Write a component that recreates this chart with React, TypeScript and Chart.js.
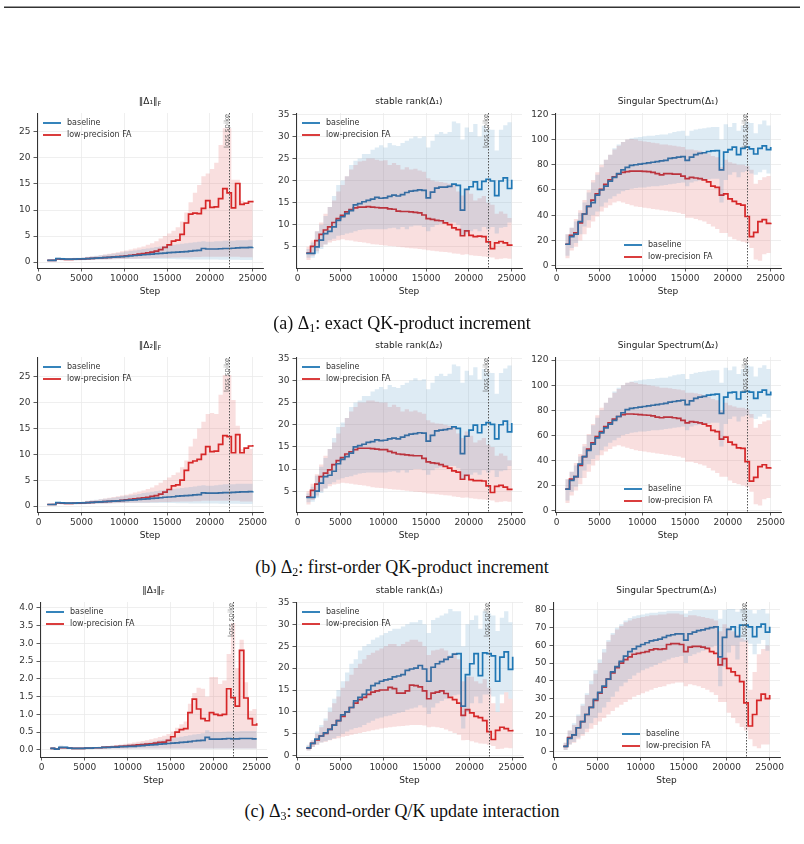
import React, { useEffect, useRef } from 'react';
import { Chart, registerables } from 'chart.js';

Chart.register(...registerables);
Chart.defaults.font.family = '"DejaVu Sans", sans-serif';

// ---------------- DATA ----------------
const STEPS = [
  1000, 1500, 2000, 2500, 3000, 3500, 4000, 4500, 5000, 5500,
  6000, 6500, 7000, 7500, 8000, 8500, 9000, 9500, 10000, 10500,
  11000, 11500, 12000, 12500, 13000, 13500, 14000, 14500, 15000, 15500,
  16000, 16500, 17000, 17500, 18000, 18500, 19000, 19500, 20000, 20500,
  21000, 21500, 22000, 22500, 23000, 23500, 24000, 24500, 25000,
];
const SPIKE_STEP = 22200;
const X_TICKS = [0, 5000, 10000, 15000, 20000, 25000];
const NORM_TICKS = [0, 5, 10, 15, 20, 25];
const RANK_TICKS = [5, 10, 15, 20, 25, 30, 35];
const SPEC_TICKS = [0, 20, 40, 60, 80, 100, 120];
const NORM3_TICKS = [0, 0.5, 1.0, 1.5, 2.0, 2.5, 3.0, 3.5, 4.0];
const RANK3_TICKS = [0, 5, 10, 15, 20, 25, 30, 35];
const SPEC3_TICKS = [0, 10, 20, 30, 40, 50, 60, 70, 80];
const SERIES_LABELS = ['baseline', 'low-precision FA'];

// ---- (a) Delta_1 ----
const N1_BASE = [
  0.3, 0.3, 0.65, 0.6, 0.55, 0.55, 0.55, 0.6, 0.6, 0.65,
  0.7, 0.75, 0.8, 0.85, 0.9, 0.95, 1.0, 1.05, 1.1, 1.2,
  1.25, 1.3, 1.4, 1.45, 1.5, 1.6, 1.65, 1.7, 1.8, 1.85,
  1.9, 1.95, 2.0, 2.1, 2.2, 2.25, 2.6, 2.5, 2.5, 2.5,
  2.55, 2.6, 2.6, 2.65, 2.7, 2.75, 2.75, 2.8, 2.85];
const N1_LP = [
  0.3, 0.3, 0.6, 0.55, 0.5, 0.5, 0.55, 0.55, 0.6, 0.65,
  0.7, 0.75, 0.8, 0.85, 0.9, 1.0, 1.05, 1.1, 1.2, 1.3,
  1.4, 1.5, 1.6, 1.75, 1.9, 2.1, 2.4, 2.8, 3.3, 4.0,
  4.2, 5.3, 7.5, 9.2, 9.4, 9.3, 10.3, 11.8, 10.5, 10.6,
  12.2, 14.1, 13.3, 10.4, 15.1, 11.1, 11.3, 11.6, 11.8];
const N1_BASE_HI = [
  0.4, 0.5, 0.8, 0.8, 0.7, 0.7, 0.8, 0.8, 0.9, 1.0,
  1.1, 1.2, 1.3, 1.4, 1.5, 1.6, 1.75, 1.85, 2.0, 2.1,
  2.2, 2.35, 2.5, 2.6, 2.75, 2.9, 3.0, 3.1, 3.2, 3.3,
  3.4, 3.5, 3.6, 3.7, 3.8, 3.9, 4.0, 3.9, 3.9, 4.0,
  4.0, 4.1, 4.1, 4.1, 4.2, 4.2, 4.2, 4.3, 4.3];
const N1_BASE_LO = [
  0.2, 0.2, 0.4, 0.35, 0.3, 0.3, 0.3, 0.35, 0.35, 0.4,
  0.4, 0.45, 0.45, 0.5, 0.5, 0.55, 0.55, 0.6, 0.6, 0.6,
  0.6, 0.6, 0.6, 0.6, 0.6, 0.6, 0.6, 0.6, 0.6, 0.6,
  0.55, 0.55, 0.55, 0.5, 0.5, 0.5, 0.5, 0.5, 0.5, 0.5,
  0.45, 0.45, 0.45, 0.45, 0.45, 0.4, 0.4, 0.4, 0.4];
const N1_LP_HI = [
  0.4, 0.5, 0.8, 0.7, 0.65, 0.65, 0.7, 0.75, 0.85, 0.95,
  1.05, 1.15, 1.3, 1.45, 1.6, 1.75, 1.9, 2.05, 2.2, 2.4,
  2.6, 2.8, 3.0, 3.3, 3.6, 4.0, 4.5, 5.0, 5.5, 6.0,
  6.7, 7.8, 9.5, 11.5, 13.3, 14.8, 16.5, 17.0, 17.9, 19.1,
  22.5, 25.7, 25.7, 15.8, 15.8, 11.8, 11.5, 11.3, 11.3];
const N1_LP_LO = [
  0.2, 0.2, 0.4, 0.35, 0.3, 0.3, 0.35, 0.35, 0.4, 0.4,
  0.45, 0.45, 0.5, 0.5, 0.55, 0.55, 0.6, 0.6, 0.6, 0.65,
  0.65, 0.7, 0.7, 0.7, 0.75, 0.75, 0.8, 0.8, 0.8, 0.85,
  0.85, 0.9, 0.9, 0.9, 0.95, 0.95, 1.0, 1.0, 1.0, 1.0,
  1.0, 1.0, 1.0, 1.0, 1.0, 0.9, 0.9, 0.9, 0.9];

const R1_BASE = [
  3.5, 3.5, 5.0, 6.5, 8.0, 8.5, 9.5, 11.0, 11.8, 12.5,
  13.2, 14.5, 14.8, 15.2, 15.5, 15.8, 16.2, 16.0, 16.1, 16.4,
  16.7, 16.5, 16.8, 17.3, 17.6, 17.7, 17.9, 17.8, 16.1, 17.4,
  18.3, 18.5, 18.5, 18.7, 19.2, 18.9, 13.3, 18.0, 18.6, 19.7,
  18.0, 19.8, 20.3, 19.9, 16.6, 19.9, 20.6, 18.2, 20.2];
const R1_LP = [
  3.6, 5.1, 6.4, 7.8, 8.8, 9.5, 10.5, 11.4, 12.1, 12.9,
  13.4, 13.8, 14.0, 14.0, 14.1, 14.0, 13.9, 13.8, 13.8, 13.6,
  13.5, 13.1, 13.0, 13.0, 12.9, 12.8, 12.7, 12.2, 11.4, 11.2,
  11.0, 10.9, 10.4, 10.0, 9.3, 8.9, 7.5, 8.6, 7.6, 7.3,
  7.4, 7.3, 6.1, 4.6, 5.9, 6.2, 5.9, 5.4, 5.2];
const R1_BASE_HI = [
  4.5, 6, 8.5, 10, 12, 14, 16.5, 19, 20, 21,
  23.5, 24.5, 25, 26, 26, 27, 27.5, 28, 27.5, 28.5,
  28, 27.8, 28.5, 29, 29.5, 30, 29.6, 30, 27.5, 29,
  30.5, 31, 30.6, 31, 33.4, 33, 29.3, 32, 31, 32.8,
  30, 32.4, 31.6, 31.5, 26.8, 31.5, 32.5, 33.2, 29];
const R1_BASE_LO = [
  2.5, 2.5, 3.5, 4.5, 5.5, 6.5, 6.8, 7.5, 7.7, 8,
  8.2, 8.5, 8.8, 8.9, 9.0, 9.0, 9.0, 9.0, 9.0, 9.2,
  9.3, 9.0, 9.5, 9.0, 9.6, 9.8, 9.8, 9.5, 8.5, 9.5,
  10, 10.2, 10.5, 10.5, 10.5, 10, 7.5, 8, 8.5, 9,
  8.5, 9.5, 9, 9.5, 8, 9.3, 9.5, 10.5, 10.7];
const R1_LP_HI = [
  5, 6.5, 8.5, 10.5, 12.5, 14, 15.5, 17.5, 19, 21,
  22.5, 23.5, 24.3, 24.5, 25, 25, 24.7, 24.5, 24.6, 23.5,
  24, 23.5, 22.5, 23, 22.5, 22.7, 22.3, 22, 20.5, 20,
  19.8, 19.7, 19.5, 19.3, 19, 17.5, 16.6, 18, 17, 15.5,
  16, 16.5, 15, 14.5, 12.5, 13, 12.5, 11.5, 10];
const R1_LP_LO = [
  2, 3, 4, 5, 5.5, 6, 6.3, 6.5, 6.7, 6.5,
  6.4, 6.2, 6.1, 6.0, 5.8, 5.6, 5.5, 5.4, 5.3, 5.2,
  5.1, 5.0, 4.9, 4.8, 4.7, 4.6, 4.5, 4.4, 4.2, 4.1,
  4.0, 3.9, 3.8, 3.7, 3.5, 3.4, 3.2, 3.3, 3.1, 3.0,
  2.9, 2.8, 2.7, 2.6, 2.2, 2.3, 2.4, 2.3, 2.1];

const S1_BASE = [
  17, 23, 25, 35, 41, 47, 50, 56, 60, 63,
  67, 70, 73, 76, 78, 79.5, 80, 80.5, 81, 81.5,
  82, 82.5, 83, 83.5, 85, 85.5, 86, 86.5, 83.5, 86,
  88, 89, 89.5, 90.5, 91, 91.2, 76, 90, 92, 94,
  88, 93, 94, 92.5, 88.5, 93, 95, 92, 94];
const S1_LP = [
  17, 24, 26, 34, 41, 47, 52, 57, 60.5, 64.5,
  68, 70.5, 72.5, 74, 74.5, 75, 75, 75, 74.8, 74.5,
  74, 73, 72, 73, 73, 72.5, 72.5, 71, 69, 70,
  69.5, 69, 68, 66.5, 63, 62, 56, 57, 53, 51,
  49, 48, 39, 23, 26.5, 35, 36.5, 33.5, 34];
const S1_BASE_HI = [
  25, 30, 35, 42, 50, 58, 66, 72, 78, 84,
  88, 93, 96, 98, 100, 101, 101.5, 102, 102.5, 103,
  103, 103.5, 104, 104, 105, 106, 106.5, 107, 103, 107,
  108, 108.5, 109, 109.5, 110, 110, 100, 112, 110, 113,
  107, 111, 114, 113, 105, 112, 115, 111, 113];
const S1_BASE_LO = [
  8, 14, 18, 25, 31, 36, 40, 43, 47, 50,
  53, 55, 57, 59, 60, 61, 61.5, 62, 62, 62.5,
  63, 63, 63.5, 64, 64.5, 65, 65.5, 66, 63, 66,
  67, 67.5, 68, 68.5, 69, 69, 50, 68, 72, 74,
  70, 74, 75, 73, 72, 74, 76, 73, 74];
const S1_LP_HI = [
  25, 30, 37, 44, 52, 60, 68, 74, 80, 84,
  88, 92, 95, 98, 100, 100.5, 100, 99, 98.5, 98,
  97.5, 97, 96, 96, 95.5, 95, 94.5, 94, 92, 92,
  91.5, 91, 90, 89, 87, 86, 78, 84, 82, 81,
  80, 80, 79, 76, 65, 68, 70, 71, 71];
const S1_LP_LO = [
  6, 12, 15, 20, 25, 30, 35, 39, 43, 46,
  48, 50, 51, 50, 49, 48, 47, 46.5, 46, 45.5,
  45, 44.5, 44, 43.5, 43, 42.5, 42, 41, 38, 38,
  37, 36, 35, 33, 31, 29, 26, 26, 23, 21,
  20, 19, 18, 14, 5, 4, 9, 10, 8];

// ---- (b) Delta_2 ----
const N2_BASE = [
  0.3, 0.3, 0.65, 0.6, 0.55, 0.55, 0.55, 0.6, 0.6, 0.65,
  0.7, 0.75, 0.8, 0.85, 0.9, 0.95, 1.0, 1.05, 1.1, 1.15,
  1.2, 1.3, 1.35, 1.4, 1.5, 1.55, 1.6, 1.7, 1.75, 1.8,
  1.9, 1.95, 2.0, 2.05, 2.15, 2.2, 2.55, 2.5, 2.5, 2.5,
  2.55, 2.6, 2.6, 2.65, 2.7, 2.75, 2.75, 2.8, 2.85];
const N2_LP = [
  0.3, 0.3, 0.6, 0.55, 0.5, 0.5, 0.55, 0.55, 0.6, 0.65,
  0.7, 0.75, 0.8, 0.85, 0.9, 0.95, 1.0, 1.1, 1.2, 1.3,
  1.4, 1.5, 1.6, 1.7, 1.85, 2.0, 2.3, 2.7, 3.2, 3.9,
  4.1, 5.0, 6.9, 8.4, 8.7, 9.0, 10.0, 11.5, 10.5, 10.6,
  11.9, 13.6, 13.4, 10.3, 13.8, 10.3, 11.2, 11.6, 11.8];
const N2_BASE_HI = [
  0.4, 0.5, 0.8, 0.8, 0.7, 0.7, 0.8, 0.8, 0.9, 1.0,
  1.1, 1.2, 1.3, 1.4, 1.5, 1.6, 1.75, 1.85, 2.0, 2.1,
  2.2, 2.35, 2.5, 2.6, 2.75, 2.9, 3.0, 3.1, 3.2, 3.3,
  3.4, 3.5, 3.6, 3.7, 3.8, 3.9, 4.0, 3.9, 3.9, 4.0,
  4.1, 4.2, 4.2, 4.2, 4.3, 4.3, 4.3, 4.3, 4.3];
const N2_BASE_LO = [
  0.2, 0.2, 0.4, 0.35, 0.3, 0.3, 0.3, 0.35, 0.35, 0.4,
  0.4, 0.45, 0.45, 0.5, 0.5, 0.55, 0.55, 0.6, 0.6, 0.6,
  0.6, 0.6, 0.6, 0.6, 0.6, 0.6, 0.6, 0.6, 0.6, 0.6,
  0.55, 0.55, 0.55, 0.5, 0.5, 0.5, 0.5, 0.5, 0.5, 0.5,
  0.45, 0.45, 0.45, 0.45, 0.45, 0.4, 0.4, 0.4, 0.4];
const N2_LP_HI = [
  0.4, 0.5, 0.8, 0.7, 0.65, 0.65, 0.7, 0.75, 0.85, 0.95,
  1.05, 1.15, 1.3, 1.45, 1.6, 1.75, 1.9, 2.05, 2.2, 2.4,
  2.6, 2.8, 3.0, 3.3, 3.6, 4.0, 4.5, 5.0, 5.5, 6.0,
  6.5, 7.5, 8.8, 11.5, 13.0, 15.0, 16.3, 17.8, 18.0, 17.8,
  21.5, 25.3, 25.3, 20.5, 15.5, 11.0, 11.0, 11.0, 11.0];
const N2_LP_LO = [
  0.2, 0.2, 0.4, 0.35, 0.3, 0.3, 0.35, 0.35, 0.4, 0.4,
  0.45, 0.45, 0.5, 0.5, 0.55, 0.55, 0.6, 0.6, 0.6, 0.65,
  0.65, 0.7, 0.7, 0.7, 0.75, 0.75, 0.8, 0.8, 0.8, 0.85,
  0.85, 0.9, 0.9, 0.9, 0.95, 0.95, 1.0, 1.0, 1.0, 1.0,
  1.0, 1.0, 1.0, 1.0, 1.0, 0.9, 0.9, 0.9, 0.9];

const R2_BASE = [
  3.6, 3.6, 5.0, 6.8, 8.3, 8.6, 9.5, 11.2, 12.2, 12.8,
  13.6, 15.0, 15.3, 15.6, 16.0, 16.2, 16.6, 16.4, 16.5, 16.8,
  17.0, 16.8, 17.2, 17.6, 17.9, 18.0, 18.2, 18.1, 16.3, 17.6,
  18.6, 18.8, 18.9, 19.1, 19.5, 19.2, 13.5, 17.4, 18.8, 19.9,
  18.2, 20.0, 20.5, 20.1, 16.8, 20.0, 20.8, 18.4, 20.4];
const R2_LP = [
  3.7, 5.2, 6.6, 8.3, 9.1, 9.8, 11.0, 11.9, 12.6, 13.4,
  13.9, 14.4, 14.7, 14.7, 14.7, 14.6, 14.5, 14.4, 14.4, 14.0,
  13.7, 13.4, 13.3, 13.2, 13.1, 13.0, 13.0, 12.4, 11.6, 11.4,
  11.3, 11.0, 10.6, 10.2, 9.6, 9.3, 7.7, 8.6, 7.6, 7.4,
  7.4, 7.3, 6.2, 4.7, 6.1, 6.3, 5.9, 5.4, 5.2];
const R2_BASE_HI = [
  4.5, 6, 8.5, 10.5, 12.5, 14.5, 17, 19.5, 20.5, 21.5,
  24, 25, 25.5, 26.5, 26.5, 27.5, 28, 28.5, 28, 29,
  28.5, 28.3, 29, 29.5, 30, 30.5, 30, 30.3, 28, 29.5,
  31, 31.5, 31, 31.5, 33.6, 33.2, 29.5, 32.2, 31.2, 33,
  30.2, 32.6, 31.8, 31.7, 27, 31.7, 32.7, 33.4, 29.2];
const R2_BASE_LO = [
  2.5, 2.6, 3.6, 4.6, 5.6, 6.6, 7, 7.6, 7.9, 8.2,
  8.4, 8.7, 9, 9.1, 9.2, 9.2, 9.2, 9.2, 9.2, 9.4,
  9.5, 9.2, 9.7, 9.2, 9.8, 10, 10, 9.7, 8.7, 9.7,
  10.2, 10.4, 10.7, 10.7, 10.7, 10.2, 7.7, 8.2, 8.7, 9.2,
  8.7, 9.7, 9.2, 9.7, 8.2, 9.5, 9.7, 10.7, 10.9];
const R2_LP_HI = [
  5, 6.7, 8.8, 11, 13, 14.5, 16, 18, 19.5, 21.5,
  23, 24, 25, 25, 25.5, 25.5, 25.2, 25, 25, 24,
  24.5, 24, 23, 23.5, 23, 23.2, 22.8, 22.5, 21, 20.5,
  20.3, 20.2, 20, 19.8, 19.5, 18, 17, 18.5, 17.5, 16,
  16.5, 17, 15.5, 15, 13, 13.5, 13, 12, 10.5];
const R2_LP_LO = [
  2, 3, 4, 5, 5.6, 6.1, 6.5, 6.7, 6.9, 6.8,
  6.7, 6.5, 6.4, 6.3, 6.1, 5.9, 5.8, 5.7, 5.6, 5.5,
  5.4, 5.3, 5.2, 5.1, 5.0, 4.9, 4.8, 4.7, 4.5, 4.4,
  4.3, 4.2, 4.1, 4.0, 3.8, 3.7, 3.5, 3.6, 3.4, 3.3,
  3.2, 3.1, 3.0, 2.9, 2.5, 2.6, 2.7, 2.6, 2.4];

const S2_BASE = [
  17, 24, 27, 37, 43, 48, 53, 58, 62, 66,
  69, 72, 75, 78, 80.5, 81.5, 82, 82.5, 83, 83.5,
  84, 84.5, 85, 85.5, 86.5, 87, 87.5, 88, 84.5, 87.5,
  89.5, 90.5, 91, 92, 92.5, 92.8, 77.5, 90.5, 94, 94.5,
  89, 94.5, 95, 94.5, 89.5, 94.5, 96, 92.5, 95];
const S2_LP = [
  17, 25, 27, 36, 43, 49, 54, 59, 63, 67,
  70, 73, 75, 76.5, 77, 77, 76.8, 76.5, 76.2, 76,
  75.5, 74.5, 74, 74.5, 74.5, 74, 73.5, 72, 70, 71,
  70.5, 70, 69, 67.5, 64, 63, 57, 58.5, 54.5, 52.5,
  50, 49.5, 39, 23.5, 26.5, 35, 36.5, 34, 34.5];
const S2_BASE_HI = [
  25, 31, 36, 43, 51, 60, 68, 74, 80, 86,
  90, 95, 98, 100, 102, 103, 103.5, 104, 104.5, 105,
  105, 105.5, 106, 106, 107, 108, 108.5, 109, 105, 109,
  110, 110.5, 111, 111.5, 112, 112, 102, 114, 112, 115,
  109, 113, 116, 115, 107, 114, 116, 113, 112];
const S2_BASE_LO = [
  8, 15, 19, 26, 32, 37, 41, 44, 48, 51,
  54, 56, 58, 60, 61, 62, 62.5, 63, 63, 63.5,
  64, 64, 64.5, 65, 65.5, 66, 66.5, 67, 64, 67,
  68, 68.5, 69, 69.5, 70, 70, 51, 69, 73, 75,
  71, 75, 76, 74, 73, 75, 77, 74, 75];
const S2_LP_HI = [
  25, 31, 38, 45, 53, 61, 69, 76, 82, 86,
  90, 94, 97, 100, 102, 102.5, 102, 101, 100.5, 100,
  99.5, 99, 98, 98, 97.5, 97, 96.5, 96, 94, 94,
  93.5, 93, 92, 91, 89, 88, 80, 86, 84, 83,
  82, 82, 81, 77, 66, 69, 71, 72, 72];
const S2_LP_LO = [
  6, 12, 16, 21, 26, 31, 36, 40, 44, 47,
  49, 51, 52, 51, 50, 49, 48, 47.5, 47, 46.5,
  46, 45.5, 45, 44.5, 44, 43.5, 43, 42, 39, 39,
  38, 37, 36, 34, 32, 30, 27, 27, 24, 22,
  21, 20, 19, 15, 5, 4, 9, 10, 8];

// ---- (c) Delta_3 ----
const N3_BASE = [
  0.04, 0.02, 0.07, 0.07, 0.05, 0.04, 0.04, 0.04, 0.05, 0.05,
  0.06, 0.06, 0.07, 0.07, 0.08, 0.08, 0.09, 0.09, 0.1, 0.1,
  0.11, 0.12, 0.13, 0.14, 0.15, 0.16, 0.17, 0.18, 0.19, 0.2,
  0.21, 0.22, 0.23, 0.25, 0.26, 0.27, 0.35, 0.3, 0.3, 0.3,
  0.31, 0.32, 0.31, 0.31, 0.32, 0.32, 0.32, 0.31, 0.31];
const N3_LP = [
  0.04, 0.02, 0.06, 0.06, 0.05, 0.04, 0.04, 0.04, 0.05, 0.05,
  0.06, 0.06, 0.07, 0.08, 0.08, 0.09, 0.1, 0.11, 0.12, 0.13,
  0.14, 0.15, 0.16, 0.17, 0.19, 0.21, 0.22, 0.27, 0.37, 0.5,
  0.57, 0.6, 1.05, 1.43, 1.15, 0.88, 0.82, 1.05, 1.0, 0.97,
  1.0, 1.72, 1.47, 1.23, 2.8, 1.46, 0.88, 0.7, 0.75];
const N3_BASE_HI = [
  0.06, 0.04, 0.12, 0.1, 0.07, 0.06, 0.06, 0.06, 0.07, 0.07,
  0.08, 0.09, 0.1, 0.11, 0.12, 0.13, 0.14, 0.15, 0.16, 0.17,
  0.18, 0.2, 0.21, 0.23, 0.25, 0.27, 0.29, 0.31, 0.33, 0.35,
  0.37, 0.39, 0.41, 0.43, 0.45, 0.47, 0.55, 0.5, 0.5, 0.5,
  0.51, 0.52, 0.52, 0.52, 0.53, 0.53, 0.53, 0.53, 0.53];
const N3_BASE_LO = [
  0.02, 0.0, 0.03, 0.04, 0.03, 0.02, 0.02, 0.02, 0.02, 0.02,
  0.03, 0.03, 0.03, 0.03, 0.03, 0.03, 0.03, 0.03, 0.03, 0.03,
  0.03, 0.03, 0.03, 0.03, 0.03, 0.03, 0.03, 0.03, 0.03, 0.03,
  0.03, 0.03, 0.03, 0.03, 0.03, 0.03, 0.03, 0.03, 0.03, 0.03,
  0.03, 0.03, 0.03, 0.03, 0.03, 0.03, 0.03, 0.03, 0.03];
const N3_LP_HI = [
  0.06, 0.04, 0.1, 0.09, 0.07, 0.06, 0.06, 0.06, 0.07, 0.07,
  0.08, 0.09, 0.1, 0.11, 0.12, 0.14, 0.15, 0.17, 0.19, 0.21,
  0.23, 0.25, 0.27, 0.3, 0.33, 0.36, 0.4, 0.45, 0.52, 0.62,
  0.72, 0.8, 1.3, 1.6, 1.75, 1.72, 1.5, 2.05, 2.05, 1.85,
  1.95, 2.7, 3.57, 2.3, 3.1, 1.9, 1.1, 1.15, 1.15];
const N3_LP_LO = [
  0.02, 0.0, 0.03, 0.03, 0.03, 0.02, 0.02, 0.02, 0.02, 0.02,
  0.03, 0.03, 0.03, 0.03, 0.03, 0.03, 0.03, 0.03, 0.03, 0.04,
  0.04, 0.04, 0.04, 0.04, 0.04, 0.04, 0.04, 0.04, 0.04, 0.04,
  0.04, 0.04, 0.04, 0.04, 0.04, 0.04, 0.04, 0.04, 0.04, 0.04,
  0.04, 0.04, 0.04, 0.04, 0.04, 0.04, 0.04, 0.04, 0.04];

const R3_BASE = [
  1.8, 2.8, 3.8, 4.5, 5.2, 6.0, 7.0, 8.0, 9.3, 10.0,
  11.0, 12.5, 13.3, 14.0, 15.0, 16.0, 16.5, 17.0, 17.3, 17.5,
  18.0, 18.2, 18.5, 19.5, 19.8, 20.0, 20.6, 19.8, 17.0, 20.2,
  21.0, 21.5, 22.0, 22.5, 23.2, 23.3, 11.3, 18.5, 21.0, 23.3,
  18.3, 23.5, 23.3, 22.8, 17.0, 22.5, 23.7, 19.7, 22.6];
const R3_LP = [
  1.7, 2.8, 3.6, 4.5, 5.1, 6.0, 7.0, 8.0, 9.0, 10.0,
  11.0, 12.0, 12.8, 13.3, 14.0, 14.5, 14.8, 15.0, 15.0, 15.6,
  15.3, 14.3, 14.3, 14.8, 16.1, 16.0, 15.7, 14.8, 13.0, 14.3,
  14.5, 14.8, 14.2, 13.3, 12.8, 12.0, 9.2, 10.5, 9.8, 9.0,
  8.7, 8.0, 5.5, 3.7, 5.8, 6.5, 6.2, 5.7, 5.9];
const R3_BASE_HI = [
  2.5, 3.5, 5.5, 7, 8.5, 11, 13, 15, 17, 19,
  21, 22, 24, 25, 25.5, 26.5, 27, 27.5, 28, 28.5,
  29, 29, 29.5, 30, 30.5, 30.5, 31, 30, 28, 31,
  31.5, 32, 32.5, 33.5, 33, 33, 25, 30, 31, 32,
  29, 33, 32.5, 32, 28.5, 31.5, 33, 30.5, 28];
const R3_BASE_LO = [
  1.2, 2, 2.5, 3, 3.3, 3.6, 4, 4.5, 5, 5.5,
  6, 6.3, 6.5, 7, 7.5, 8, 8.5, 8.7, 9, 9.2,
  9.5, 9.8, 10, 10.5, 10.8, 11, 11.5, 11, 9.5, 11,
  12, 12.5, 13, 13.5, 13.8, 14, 6.2, 10, 12, 13.5,
  12, 14, 14, 13.5, 10, 14, 14.5, 13, 13.5];
const R3_LP_HI = [
  2.2, 3.5, 5, 6.5, 8, 10, 12, 13.5, 15.5, 17,
  18.5, 20, 21, 22, 23, 23.5, 24, 24.5, 25, 25.5,
  25.5, 25, 25.5, 26, 26.5, 26.5, 26, 25, 23, 24,
  24.2, 24.5, 24, 23, 23.5, 22, 17, 18, 18, 17,
  16.5, 17.5, 15.5, 12, 10, 12, 14.5, 13, 12];
const R3_LP_LO = [
  1.2, 2, 2.5, 3, 3.2, 3.5, 3.8, 4, 4.3, 4.5,
  4.8, 5, 5.2, 5.4, 5.6, 5.8, 6, 6.2, 6.4, 6.5,
  6.6, 6.7, 6.8, 6.9, 7, 7, 7, 6.9, 6.5, 6.6,
  6.5, 6.3, 6, 5.6, 5.2, 4.8, 3.5, 3.6, 3.3, 3.0,
  2.8, 2.7, 2.5, 2.2, 1.5, 1.6, 1.8, 1.7, 1.6];

const S3_BASE = [
  3, 7.5, 9.5, 13.5, 17, 21, 25, 29.5, 33.5, 37,
  41, 45, 48, 51, 54, 56.5, 58, 59.5, 60.5, 61.5,
  62.5, 63, 63.5, 64.5, 65.5, 66, 66.5, 66.5, 63, 66.5,
  67.5, 68.3, 68.8, 69.5, 70, 70.5, 53.5, 64.5, 69, 70.5,
  65, 71.5, 71.5, 70.5, 65, 70.5, 72, 67.5, 70.5];
const S3_LP = [
  3, 8, 9.5, 13.5, 17, 21, 25, 29, 33, 36.5,
  41, 44.5, 47.5, 50, 52, 53.5, 55, 55.5, 56, 56.5,
  57.5, 58, 57.8, 58, 60.5, 61, 61, 60.5, 56.5, 59,
  59.5, 59.5, 59, 58.3, 56.5, 55.5, 49, 52.5, 47, 45,
  43, 39.5, 27.5, 14.5, 21, 29, 32.5, 30, 32];
const S3_BASE_HI = [
  5, 12, 16, 21, 27, 33, 40, 46, 52, 58,
  63, 67, 70, 72, 74, 75.5, 76.5, 77, 77.5, 78,
  78.5, 78.5, 79, 79, 79.5, 79.5, 79.5, 79.5, 78, 79.5,
  80, 80, 80, 80, 80, 80, 75, 80, 80.5, 80.5,
  79, 80.5, 80.5, 80, 78, 80, 80.5, 78, 80];
const S3_BASE_LO = [
  1, 4, 5.5, 8, 10, 13, 16, 19, 22, 25,
  28, 31, 34, 37, 39, 41, 43, 44.5, 46, 47,
  48, 49, 50, 51, 52, 53, 53.5, 54, 50, 54,
  55, 56, 57, 58, 59, 60, 37, 48, 56, 60,
  52, 62, 62, 61, 55, 61, 63, 57, 60];
const S3_LP_HI = [
  5, 12, 15, 20, 26, 32, 38, 44, 50, 56,
  62, 66, 69, 71, 73, 74, 75, 75.5, 76, 76.5,
  77, 77, 77.5, 77.5, 78, 78, 78, 77.5, 76, 77,
  77, 76.5, 76, 75.5, 75, 74, 68, 72, 70, 68,
  66, 64, 63, 35, 45, 55, 58, 60, 59];
const S3_LP_LO = [
  1, 4, 5, 7, 9, 11, 13, 15, 17, 19,
  21, 23, 25, 26.5, 28, 29.5, 31, 32, 33, 34,
  35, 36, 36.5, 37, 38, 38.5, 39, 39, 37, 38,
  37.5, 37, 36, 35, 33.5, 32, 28, 28, 22, 19,
  16, 14, 12, 7, 3, 2, 4, 4, 3];

// ---------------- STYLE / LAYOUT ----------------
const BLUE = '#1f77b4';
const RED = '#d62728';
const BLUE_FILL = 'rgba(31,119,180,0.15)';
const RED_FILL = 'rgba(214,39,40,0.15)';
const PAD_L = 40;
const PAD_T = 22;
const PAD_R = 12;
const PAD_B = 36;
const PLOT_H = 155;

type PanelDef = {
  title: string; sub?: string;
  base: number[]; lp: number[]; baseHi: number[]; baseLo: number[]; lpHi: number[]; lpLo: number[];
  yMin: number; yMax: number; yTicks: number[]; dec: number; legend: 'tl' | 'bc';
  L: number; T: number; W: number;
};

const PANELS: PanelDef[] = [
  { title: '‖Δ₁‖', sub: 'F', base: N1_BASE, lp: N1_LP, baseHi: N1_BASE_HI, baseLo: N1_BASE_LO, lpHi: N1_LP_HI, lpLo: N1_LP_LO,
    yMin: -1.15, yMax: 28.65, yTicks: NORM_TICKS, dec: 0, legend: 'tl', L: 37, T: 113, W: 226 },
  { title: 'stable rank(Δ₁)', base: R1_BASE, lp: R1_LP, baseHi: R1_BASE_HI, baseLo: R1_BASE_LO, lpHi: R1_LP_HI, lpLo: R1_LP_LO,
    yMin: 0.2, yMax: 35.3, yTicks: RANK_TICKS, dec: 0, legend: 'tl', L: 296, T: 113, W: 226 },
  { title: 'Singular Spectrum(Δ₁)', base: S1_BASE, lp: S1_LP, baseHi: S1_BASE_HI, baseLo: S1_BASE_LO, lpHi: S1_LP_HI, lpLo: S1_LP_LO,
    yMin: -1.8, yMax: 121, yTicks: SPEC_TICKS, dec: 0, legend: 'bc', L: 555, T: 113, W: 226 },
  { title: '‖Δ₂‖', sub: 'F', base: N2_BASE, lp: N2_LP, baseHi: N2_BASE_HI, baseLo: N2_BASE_LO, lpHi: N2_LP_HI, lpLo: N2_LP_LO,
    yMin: -1.15, yMax: 28.8, yTicks: NORM_TICKS, dec: 0, legend: 'tl', L: 37, T: 357, W: 226 },
  { title: 'stable rank(Δ₂)', base: R2_BASE, lp: R2_LP, baseHi: R2_BASE_HI, baseLo: R2_BASE_LO, lpHi: R2_LP_HI, lpLo: R2_LP_LO,
    yMin: 0.3, yMax: 35.3, yTicks: RANK_TICKS, dec: 0, legend: 'tl', L: 296, T: 357, W: 226 },
  { title: 'Singular Spectrum(Δ₂)', base: S2_BASE, lp: S2_LP, baseHi: S2_BASE_HI, baseLo: S2_BASE_LO, lpHi: S2_LP_HI, lpLo: S2_LP_LO,
    yMin: -1.2, yMax: 122.5, yTicks: SPEC_TICKS, dec: 0, legend: 'bc', L: 555, T: 357, W: 226 },
  { title: '‖Δ₃‖', sub: 'F', base: N3_BASE, lp: N3_LP, baseHi: N3_BASE_HI, baseLo: N3_BASE_LO, lpHi: N3_LP_HI, lpLo: N3_LP_LO,
    yMin: -0.2, yMax: 4.16, yTicks: NORM3_TICKS, dec: 1, legend: 'tl', L: 40, T: 602, W: 227 },
  { title: 'stable rank(Δ₃)', base: R3_BASE, lp: R3_LP, baseHi: R3_BASE_HI, baseLo: R3_BASE_LO, lpHi: R3_LP_HI, lpLo: R3_LP_LO,
    yMin: -0.3, yMax: 35.1, yTicks: RANK3_TICKS, dec: 0, legend: 'tl', L: 296, T: 602, W: 227 },
  { title: 'Singular Spectrum(Δ₃)', base: S3_BASE, lp: S3_LP, baseHi: S3_BASE_HI, baseLo: S3_BASE_LO, lpHi: S3_LP_HI, lpLo: S3_LP_LO,
    yMin: -3, yMax: 84.5, yTicks: SPEC3_TICKS, dec: 0, legend: 'bc', L: 553, T: 602, W: 227 },
];

const CAPTIONS = [
  { label: '(a)', idx: '1', text: ': exact QK-product increment', y: 323 },
  { label: '(b)', idx: '2', text: ': first-order QK-product increment', y: 567 },
  { label: '(c)', idx: '3', text: ': second-order Q/K update interaction', y: 811 },
];

const pts = (arr: number[]) => arr.map((v, i) => ({ x: STEPS[i], y: v }));

function decor(p: PanelDef) {
  return {
    id: 'decor',
    afterDatasetsDraw(chart: any) {
      const { ctx, chartArea: a, scales } = chart;
      const sx = Math.round(scales.x.getPixelForValue(SPIKE_STEP)) + 0.5;
      ctx.save();
      ctx.strokeStyle = '#555';
      ctx.lineWidth = 1;
      ctx.setLineDash([1.5, 1.5]);
      ctx.beginPath();
      ctx.moveTo(sx, a.top);
      ctx.lineTo(sx, a.bottom);
      ctx.stroke();
      ctx.setLineDash([]);
      ctx.translate(sx - 0.5, a.top + 1);
      ctx.rotate(-Math.PI / 2);
      ctx.font = '7px "DejaVu Sans"';
      ctx.fillStyle = '#666';
      ctx.textAlign = 'right';
      ctx.textBaseline = 'alphabetic';
      ctx.fillText('loss spike', 0, 0);
      ctx.restore();

      // legend
      ctx.save();
      const x0 = p.legend === 'tl' ? a.left + 6 : a.left + 69;
      const y0 = p.legend === 'tl' ? a.top + 10 : a.bottom - 23;
      [BLUE, RED].forEach((c, i) => {
        const y = y0 + i * 12;
        ctx.strokeStyle = c;
        ctx.lineWidth = 1.8;
        ctx.beginPath();
        ctx.moveTo(x0, y);
        ctx.lineTo(x0 + 18, y);
        ctx.stroke();
        ctx.fillStyle = '#333';
        ctx.font = '8px "DejaVu Sans"';
        ctx.textAlign = 'left';
        ctx.textBaseline = 'middle';
        ctx.fillText(SERIES_LABELS[i], x0 + 24, y);
      });
      ctx.restore();
    },
    afterDraw(chart: any) {
      const { ctx, chartArea: a } = chart;
      const cx = (a.left + a.right) / 2;
      ctx.save();
      ctx.fillStyle = '#222';
      ctx.textBaseline = 'middle';
      ctx.textAlign = 'left';
      ctx.font = '9px "DejaVu Sans"';
      const w1 = ctx.measureText(p.title).width;
      let w2 = 0;
      if (p.sub) {
        ctx.font = '6.5px "DejaVu Sans"';
        w2 = ctx.measureText(p.sub).width;
      }
      const start = cx - (w1 + w2) / 2;
      const ty = a.top - 11;
      ctx.font = '9px "DejaVu Sans"';
      ctx.fillText(p.title, start, ty);
      if (p.sub) {
        ctx.font = '6.5px "DejaVu Sans"';
        ctx.fillText(p.sub, start + w1, ty + 2.5);
      }
      ctx.font = '9px "DejaVu Sans"';
      ctx.textAlign = 'center';
      ctx.fillStyle = '#222';
      ctx.fillText('Step', cx, a.bottom + 24);
      ctx.restore();
    },
  };
}

function makeConfig(p: PanelDef): any {
  const band = (data: number[], fill: any, bg: string) => ({
    data: pts(data), fill, backgroundColor: bg, borderColor: 'rgba(0,0,0,0)', borderWidth: 0,
    pointRadius: 0, stepped: 'before',
  });
  const line = (data: number[], color: string) => ({
    data: pts(data), fill: false, borderColor: color, backgroundColor: color, borderWidth: 1.7,
    pointRadius: 0, stepped: 'before',
  });
  const axisCommon = {
    grid: { color: '#ebebeb', lineWidth: 0.8, tickColor: '#333', tickLength: 3.5, tickWidth: 0.8 },
    border: { color: '#333', width: 1 },
  };
  return {
    type: 'line',
    data: {
      datasets: [
        band(p.baseHi, '+1', BLUE_FILL),
        band(p.baseLo, false, 'rgba(0,0,0,0)'),
        band(p.lpHi, '+1', RED_FILL),
        band(p.lpLo, false, 'rgba(0,0,0,0)'),
        line(p.base, BLUE),
        line(p.lp, RED),
      ],
    },
    options: {
      animation: false,
      responsive: false,
      devicePixelRatio: 1,
      events: [],
      layout: { padding: { left: 0, top: PAD_T, right: PAD_R, bottom: 0 } },
      plugins: { legend: { display: false }, tooltip: { enabled: false }, title: { display: false } },
      scales: {
        x: {
          type: 'linear', min: -200, max: 26200,
          afterBuildTicks: (s: any) => { s.ticks = X_TICKS.map((v) => ({ value: v })); },
          afterFit: (s: any) => { s.height = PAD_B; },
          ticks: { callback: (v: any) => String(v), font: { size: 9 }, color: '#333', padding: 2, maxRotation: 0, autoSkip: false },
          ...axisCommon,
        },
        y: {
          type: 'linear', min: p.yMin, max: p.yMax,
          afterBuildTicks: (s: any) => { s.ticks = p.yTicks.map((v) => ({ value: v })); },
          afterFit: (s: any) => { s.width = PAD_L; },
          ticks: { callback: (v: any) => Number(v).toFixed(p.dec), font: { size: 9 }, color: '#333', padding: 3, autoSkip: false },
          ...axisCommon,
        },
      },
    },
    plugins: [decor(p)],
  };
}

function PanelChart({ p }: { p: PanelDef }) {
  const ref = useRef<HTMLCanvasElement>(null);
  const w = p.W + PAD_L + PAD_R;
  const h = PLOT_H + PAD_T + PAD_B;
  useEffect(() => {
    const chart = new Chart(ref.current as HTMLCanvasElement, makeConfig(p));
    return () => chart.destroy();
  }, []);
  return (
    <canvas
      ref={ref}
      width={w}
      height={h}
      style={{ position: 'absolute', left: p.L - PAD_L, top: p.T - PAD_T, width: w, height: h }}
    />
  );
}

export default function App() {
  return (
    <div style={{ position: 'absolute', left: 0, top: 0, width: 804, height: 844, background: '#fff', overflow: 'hidden' }}>
      <div style={{ position: 'absolute', left: 4, top: 6, width: 796, height: 0, borderTop: '1px solid #999', borderBottom: '1.5px solid #333' }} />
      {PANELS.map((p, i) => <PanelChart key={i} p={p} />)}
      {CAPTIONS.map((c, i) => (
        <div key={i} style={{
          position: 'absolute', left: 0, top: c.y - 11, width: 804, textAlign: 'center',
          fontFamily: '"Liberation Serif", "Times New Roman", serif', fontSize: 18, lineHeight: '22px', color: '#111',
        }}>
          {c.label} Δ<sub style={{ fontSize: 12, verticalAlign: 'baseline', position: 'relative', top: 3 }}>{c.idx}</sub>{c.text}
        </div>
      ))}
    </div>
  );
}
